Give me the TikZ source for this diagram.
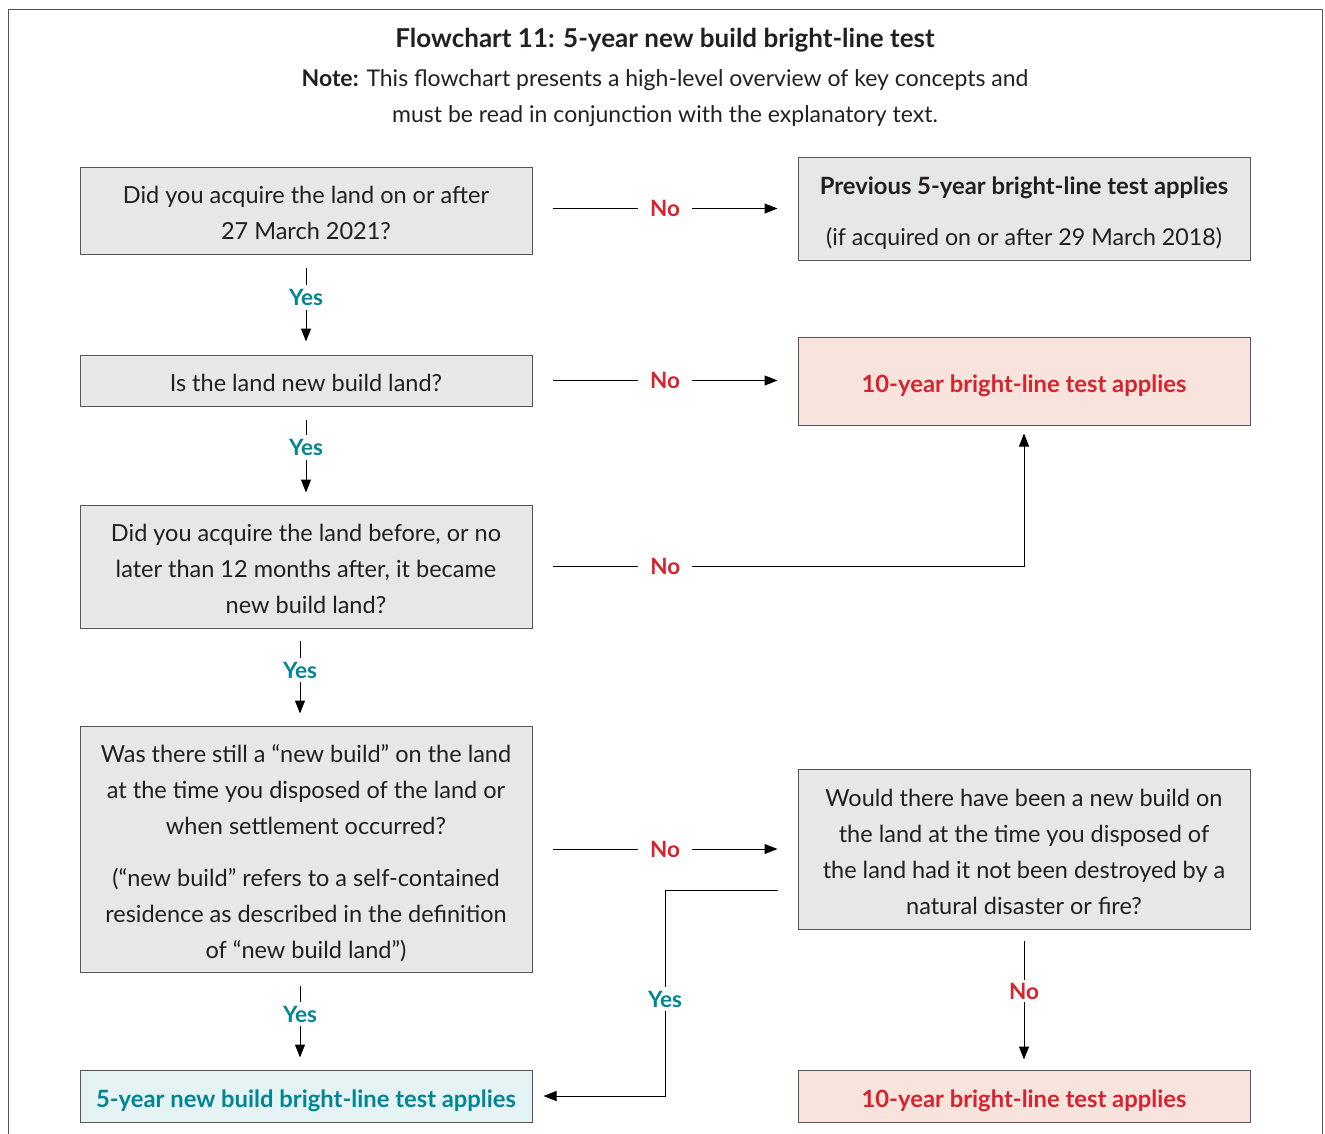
\documentclass[tikz,border=0pt]{standalone}
\usepackage{fontspec}
\setmainfont{Lato}
\usetikzlibrary{arrows.meta,calc}
\definecolor{boxgray}{RGB}{230,231,232}
\definecolor{boxline}{RGB}{85,85,85}
\definecolor{pinkfill}{RGB}{248,228,220}
\definecolor{tealfill}{RGB}{230,243,245}
\definecolor{redtxt}{RGB}{214,35,48}
\definecolor{tealtxt}{RGB}{0,133,145}
\definecolor{ink}{RGB}{35,31,32}
\newcommand{\toppad}{\rule{0pt}{29pt}}
\begin{document}
\begin{tikzpicture}[x=1pt,y=-1pt,
  box/.style={draw=boxline, line width=1pt, fill=boxgray, align=center, text=ink,
    font=\fontsize{23.5}{36}\selectfont, inner sep=0pt, minimum width=452pt,
    execute at begin node={\rule{0pt}{29pt}}, execute at end node={\rule[-7pt]{0pt}{0pt}}},
  pinkbox/.style={box, fill=pinkfill, text=redtxt, font=\bfseries\fontsize{23.8}{36}\selectfont},
  tealbox/.style={box, fill=tealfill, text=tealtxt, font=\bfseries\fontsize{23.8}{36}\selectfont},
  conn/.style={draw=black, line width=1pt, -{Triangle[length=13pt,width=10pt]}},
  nolbl/.style={fill=white, text=redtxt, font=\bfseries\fontsize{22.5}{26}\selectfont, inner xsep=12pt, inner ysep=3pt},
  yeslbl/.style={fill=white, text=tealtxt, font=\bfseries\fontsize{22.5}{26}\selectfont, inner xsep=3pt, inner ysep=4pt},
  frame/.style={draw=boxline, line width=1pt}
]
\useasboundingbox (0,0) rectangle (1325,1133);
\draw[frame] (8,9) rectangle (1322,1160);

\node[font=\bfseries\fontsize{26}{30}\selectfont, text=ink] (title) at (665,40) {Flowchart 11: 5-year new build bright-line test};
\node[font=\fontsize{23}{36}\selectfont, text=ink, align=center] (note) at (665,98)
  {\textbf{Note:} This flowchart presents a high-level overview of key concepts and\\ must be read in conjunction with the explanatory text.};

\node[box, minimum height=87pt] (b1) at (306,210.5) {\toppad Did you acquire the land on or after\\27 March 2021?};
\node[box, minimum height=103pt, font=\fontsize{23.2}{36}\selectfont] (r1) at (1024,208.5) {\toppad{\fontsize{23.8}{36}\selectfont\bfseries Previous 5-year bright-line test applies}\\[15pt](if acquired on or after 29 March 2018)};
\node[box, minimum height=51pt] (b2) at (306,380.5) {Is the land new build land?};
\node[pinkbox, minimum height=88pt] (r2) at (1024,381) {10-year bright-line test applies};
\node[box, minimum height=123pt] (b3) at (306,566.5) {\toppad Did you acquire the land before, or no\\later than 12 months after, it became\\new build land?};
\node[box, minimum height=246pt] (b4) at (306,849) {\toppad Was there still a ``new build'' on the land\\at the time you disposed of the land or\\when settlement occurred?\\[16pt](``new build'' refers to a self-contained\\residence as described in the definition\\of ``new build land'')};
\node[box, minimum height=160pt] (r3) at (1024,849) {\toppad Would there have been a new build on\\the land at the time you disposed of\\the land had it not been destroyed by a\\natural disaster or fire?};
\node[tealbox, minimum height=52pt] (g) at (306,1096) {5-year new build bright-line test applies};
\node[pinkbox, minimum height=52pt] (r4) at (1024,1096) {10-year bright-line test applies};

% No arrows to the right
\draw[conn, shorten <=20pt, shorten >=20pt] (b1.east |- r1) -- node[nolbl]{No} (r1.west);
\draw[conn, shorten <=20pt, shorten >=20pt] (b2.east) -- node[nolbl]{No} (b2 -| r2.west);
\draw[conn, shorten <=20pt, shorten >=20pt] (b4.east) -- node[nolbl]{No} (r3.west);
\draw[conn, shorten <=20pt, shorten >=8pt] (b3.east) -- node[nolbl, pos=0.27]{No} (b3 -| r2.south) -- (r2.south);

% Yes arrows down
\draw[conn, shorten <=13pt, shorten >=13pt] (b1.south) -- node[yeslbl, pos=0.43]{Yes} (b2.north);
\draw[conn, shorten <=13pt, shorten >=12pt] (b2.south) -- node[yeslbl, pos=0.42]{Yes} (b3.north);
\draw[conn, shorten <=12pt, shorten >=12pt] ([xshift=-6pt]b3.south) -- node[yeslbl, pos=0.43]{Yes} ([xshift=-6pt]b4.north);
\draw[conn, shorten <=13pt, shorten >=12pt] ([xshift=-6pt]b4.south) -- node[yeslbl, pos=0.43]{Yes} ([xshift=-6pt]g.north);

% From r3
\coordinate (k1) at (665,890);
\coordinate (k2) at (665,1096);
\draw[conn, shorten <=20pt, shorten >=11pt] ([yshift=-41pt]r3.west) -- (k1) -- node[yeslbl, pos=0.53]{Yes} (k2) -- (g.east);
\draw[conn, shorten <=11pt, shorten >=10pt] (r3.south) -- node[nolbl, inner xsep=3pt, pos=0.44]{No} (r4.north);
\end{tikzpicture}
\end{document}
